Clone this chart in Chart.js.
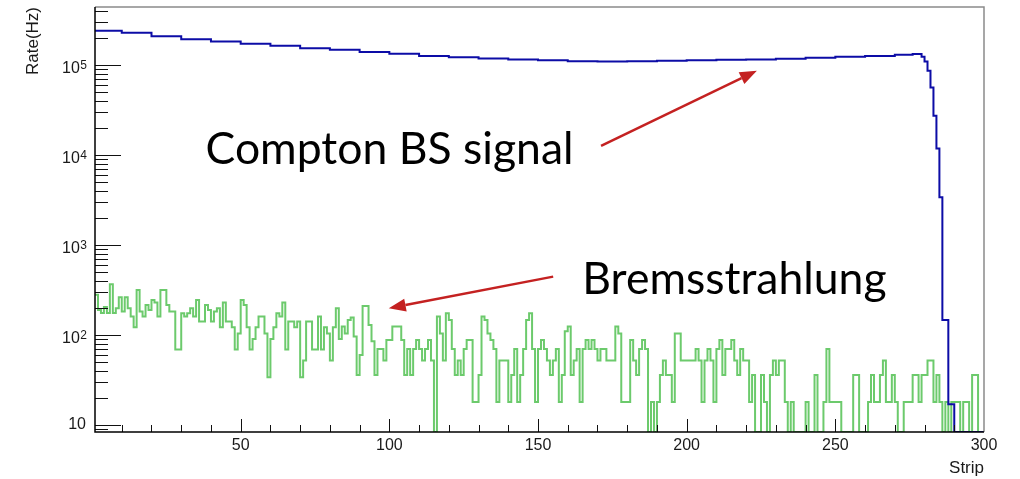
<!DOCTYPE html>
<html>
<head>
<meta charset="utf-8">
<script src="https://cdn.jsdelivr.net/npm/chart.js@4/dist/chart.umd.min.js"></script>
<style>
  html, body { margin: 0; background: #fff; }
  canvas { display: block; }
</style>
</head>
<body>
<canvas id="rateChart" width="1020" height="479"></canvas>
<script>
// Compton BS signal (blue): bin left edge -> rate, step until next edge
const blueStrips = [1, 10, 20, 30, 40, 50, 60, 70, 80, 90,
  100, 110, 120, 130, 140, 150, 160, 170, 180, 190,
  200, 210, 220, 230, 240, 250, 260, 270, 276, 279,
  280, 281, 282, 283, 284, 285, 286, 287, 288, 289, 290];
const blueRates = [2.40e5, 2.27e5, 2.08e5, 1.93e5, 1.82e5, 1.72e5, 1.63e5, 1.53e5, 1.47e5, 1.39e5,
  1.33e5, 1.26e5, 1.22e5, 1.18e5, 1.15e5, 1.13e5, 1.10e5, 1.09e5, 1.10e5, 1.11e5,
  1.13e5, 1.14e5, 1.15e5, 1.17e5, 1.20e5, 1.23e5, 1.26e5, 1.30e5, 1.32e5, 1.23e5,
  1.09e5, 8.6e4, 5.6e4, 2.73e4, 1.18e4, 3.39e3, 147, 147, 17, 17, 0];

// Bremsstrahlung (green): one value per strip, strips 1..299
const greenRates = [
  280, 190, 175, 205, 175, 365, 175, 198, 262, 182,
  262, 198, 160, 122, 316, 182, 160, 215, 190, 245,
  229, 160, 316, 316, 215, 182, 182, 69, 69, 174,
  160, 174, 198, 160, 245, 141, 141, 215, 190, 141,
  182, 198, 122, 229, 141, 141, 122, 69, 104, 245,
  215, 122, 69, 90, 122, 160, 160, 104, 34, 90,
  122, 174, 160, 229, 69, 141, 141, 122, 141, 34,
  52, 141, 141, 69, 69, 160, 69, 122, 104, 52,
  122, 198, 90, 124, 104, 147, 156, 96, 36, 60,
  210, 210, 129, 85, 36, 70, 70, 52, 88, 88,
  124, 124, 124, 88, 36, 70, 36, 70, 88, 70,
  52, 70, 88, 52, 0, 160, 104, 52, 174, 147,
  70, 36, 52, 36, 70, 88, 88, 18, 18, 36,
  160, 147, 104, 88, 70, 18, 52, 52, 52, 18,
  36, 70, 18, 36, 70, 147, 174, 70, 18, 70,
  88, 70, 52, 36, 52, 70, 18, 36, 110, 124,
  36, 52, 70, 18, 70, 88, 70, 88, 70, 52,
  70, 70, 52, 52, 52, 124, 104, 18, 18, 18,
  88, 52, 36, 70, 88, 70, 0, 18, 0, 18,
  36, 52, 36, 36, 18, 104, 104, 52, 52, 52,
  52, 52, 70, 52, 18, 52, 70, 52, 18, 70,
  88, 36, 70, 70, 88, 52, 36, 70, 52, 52,
  18, 36, 0, 0, 36, 18, 0, 36, 52, 36,
  52, 52, 18, 0, 18, 0, 0, 0, 0, 18,
  0, 0, 36, 0, 0, 18, 70, 18, 18, 18,
  18, 0, 0, 0, 0, 36, 36, 0, 0, 0,
  18, 36, 18, 18, 36, 52, 18, 18, 36, 18,
  0, 0, 18, 18, 18, 36, 36, 18, 36, 36,
  52, 52, 18, 36, 18, 0, 18, 0, 18, 18,
  18, 0, 18, 18, 0, 36, 36, 0, 0
];

const xTickValues = [50, 100, 150, 200, 250, 300];
const yTickValues = [10, 100, 1000, 10000, 100000];
const yTickExp = ['', '2', '3', '4', '5'];

const X_MIN = 1, X_MAX = 300;
const Y_MIN = 8.36, Y_MAX = 4.4e5;

// text labels and arrows, in data coordinates
const notes = [
  { text: 'Compton BS signal', x: 38.2, y: 7.9e3 },
  { text: 'Bremsstrahlung', x: 164.9, y: 286 }
];
const arrows = [
  { from: [171.2, 1.26e4], to: [223.6, 8.6e4] },
  { from: [155.1, 445], to: [99.8, 198] }
];

// ROOT draws empty bins on the frame bottom
const clampLow = v => (v > 0 ? v : Y_MIN);

const blueData = blueStrips.map((s, i) => ({ x: s, y: clampLow(blueRates[i]) }));
blueData.push({ x: X_MAX, y: clampLow(blueRates[blueRates.length - 1]) });
const greenData = greenRates.map((r, i) => ({ x: i + 1, y: clampLow(r) }));
greenData.push({ x: X_MAX, y: clampLow(greenRates[greenRates.length - 1]) });

const SANS = "'Liberation Sans', Arial, Helvetica, sans-serif";
const labelFont = { family: SANS, size: 16 };

const rootFrame = {
  id: 'rootFrame',
  afterDatasetsDraw(chart) {
    const { ctx, chartArea: a, scales: { x, y } } = chart;
    ctx.save();
    ctx.strokeStyle = '#111';
    ctx.lineWidth = 1;
    ctx.beginPath();
    for (let e = Math.floor(Math.log10(Y_MIN)); e <= Math.ceil(Math.log10(Y_MAX)); e++) {
      for (let m = 1; m <= 9; m++) {
        const v = m * Math.pow(10, e);
        if (v < Y_MIN || v > Y_MAX) continue;
        const py = Math.round(y.getPixelForValue(v)) + 0.5;
        ctx.moveTo(a.left, py);
        ctx.lineTo(a.left + (m === 1 ? 26 : 13), py);
      }
    }
    for (let v = 10; v < X_MAX; v += 10) {
      const px = Math.round(x.getPixelForValue(v)) + 0.5;
      ctx.moveTo(px, a.bottom);
      ctx.lineTo(px, a.bottom - (v % 50 === 0 ? 13 : 7));
    }
    ctx.stroke();

    // frame: grey top/right, black axes
    ctx.strokeStyle = '#8a8a8a';
    ctx.lineWidth = 1.5;
    ctx.beginPath();
    ctx.moveTo(a.left, a.top);
    ctx.lineTo(a.right, a.top);
    ctx.lineTo(a.right, a.bottom);
    ctx.stroke();
    ctx.strokeStyle = '#000';
    ctx.beginPath();
    ctx.moveTo(a.left, a.top);
    ctx.lineTo(a.left, a.bottom);
    ctx.lineTo(a.right, a.bottom);
    ctx.stroke();

    // y labels 10^n with raised exponent
    ctx.fillStyle = '#1a1a1a';
    ctx.textAlign = 'right';
    yTickValues.forEach((v, i) => {
      const py = y.getPixelForValue(v);
      const exp = yTickExp[i];
      if (!exp) {
        ctx.font = '16px ' + SANS;
        ctx.textBaseline = 'middle';
        ctx.fillText('10', 86, py);
        return;
      }
      ctx.font = '12px ' + SANS;
      ctx.textBaseline = 'alphabetic';
      ctx.fillText(exp, 87, py + 4.5);
      const ew = ctx.measureText(exp).width;
      ctx.font = '16px ' + SANS;
      ctx.fillText('10', 87 - ew - 0.5, py + 8.5);
    });

    // axis titles, ROOT style at the far ends
    ctx.font = '17px ' + SANS;
    ctx.textBaseline = 'middle';
    ctx.textAlign = 'right';
    ctx.fillText('Strip', a.right, 468);
    ctx.translate(33, a.top);
    ctx.rotate(-Math.PI / 2);
    ctx.fillText('Rate(Hz)', 0, 0);
    ctx.restore();
  }
};

const annotate = {
  id: 'annotate',
  afterDraw(chart) {
    const { ctx, scales: { x, y } } = chart;
    ctx.save();
    ctx.fillStyle = '#000';
    ctx.font = "44.5px Lato, 'Open Sans', sans-serif";
    ctx.textBaseline = 'alphabetic';
    notes.forEach(n => ctx.fillText(n.text, x.getPixelForValue(n.x), y.getPixelForValue(n.y)));

    ctx.strokeStyle = '#c42121';
    ctx.fillStyle = '#c42121';
    ctx.lineWidth = 2.5;
    arrows.forEach(ar => {
      const x0 = x.getPixelForValue(ar.from[0]), y0 = y.getPixelForValue(ar.from[1]);
      const x1 = x.getPixelForValue(ar.to[0]), y1 = y.getPixelForValue(ar.to[1]);
      const ang = Math.atan2(y1 - y0, x1 - x0);
      const head = 17, half = 6.5;
      const bx = x1 - head * Math.cos(ang), by = y1 - head * Math.sin(ang);
      ctx.beginPath();
      ctx.moveTo(x0, y0);
      ctx.lineTo(bx, by);
      ctx.stroke();
      ctx.beginPath();
      ctx.moveTo(x1, y1);
      ctx.lineTo(bx + half * Math.sin(ang), by - half * Math.cos(ang));
      ctx.lineTo(bx - half * Math.sin(ang), by + half * Math.cos(ang));
      ctx.closePath();
      ctx.fill();
    });
    ctx.restore();
  }
};

new Chart(document.getElementById('rateChart'), {
  type: 'line',
  data: {
    datasets: [{
      label: 'Compton BS signal',
      data: blueData,
      borderColor: '#0c0ca6',
      borderWidth: 2,
      stepped: true,
      pointRadius: 0,
      fill: false
    }, {
      label: 'Bremsstrahlung',
      data: greenData,
      borderColor: '#6cca6c',
      borderWidth: 2,
      stepped: true,
      pointRadius: 0,
      fill: false
    }]
  },
  options: {
    responsive: false,
    animation: false,
    events: [],
    layout: { padding: { top: 7, right: 36, left: 0, bottom: 0 } },
    plugins: { legend: { display: false }, tooltip: { enabled: false } },
    scales: {
      x: {
        type: 'linear',
        min: X_MIN,
        max: X_MAX,
        grid: { display: false, drawTicks: false },
        border: { display: false },
        afterBuildTicks: s => { s.ticks = xTickValues.map(v => ({ value: v })); },
        afterFit: s => { s.height = 47; },
        ticks: {
          autoSkip: false,
          maxRotation: 0,
          padding: 4,
          color: '#1a1a1a',
          font: labelFont,
          callback: v => String(v)
        }
      },
      y: {
        type: 'logarithmic',
        min: Y_MIN,
        max: Y_MAX,
        grid: { display: false, drawTicks: false },
        border: { display: false },
        afterFit: s => { s.width = 95; },
        ticks: { display: false }
      }
    }
  },
  plugins: [rootFrame, annotate]
});
</script>
</body>
</html>
